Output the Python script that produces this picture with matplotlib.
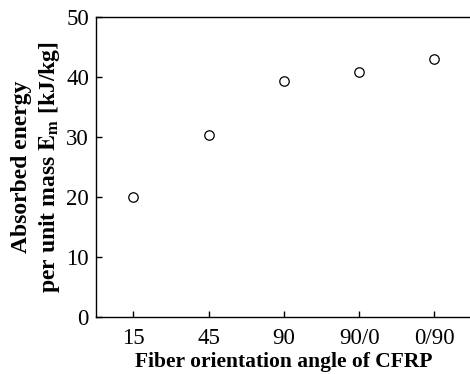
import numpy as np
import matplotlib
matplotlib.use("Agg")
import matplotlib.pyplot as plt

# data
angles = ["15", "45", "90", "90/0", "0/90"]
energy = [20.0, 30.3, 39.3, 40.8, 43.0]
y_ticks = [0, 10, 20, 30, 40, 50]

plt.rcParams["font.family"] = ["Liberation Serif", "DejaVu Serif"]
plt.rcParams["mathtext.fontset"] = "stix"

fig = plt.figure(figsize=(4.7, 3.74), dpi=100)
ax = fig.add_axes([0.204, 0.152, 0.8, 0.8025])

x = np.arange(len(angles))
ax.plot(x, energy, "o", mfc="white", mec="black", mew=0.9, ms=6.8, ls="none")

ax.set_xlim(-0.5, 4.5)
ax.set_ylim(0, 50)
ax.set_xticks(x)
ax.set_xticklabels(angles)
ax.set_yticks(y_ticks)

ax.tick_params(direction="in", length=4, width=1, labelsize=16.5)
ax.tick_params(axis="x", pad=8)
ax.tick_params(axis="y", pad=5)
ax.spines["right"].set_visible(False)
for s in ["left", "bottom", "top"]:
    ax.spines[s].set_linewidth(1.0)

ax.set_xlabel("Fiber orientation angle of CFRP", fontsize=15.5, fontweight="bold", labelpad=2)
ax.set_ylabel("Absorbed energy\nper unit mass $\\mathbf{E_m}$ [kJ/kg]",
              fontsize=17, fontweight="bold", linespacing=1.25, labelpad=3)

fig.savefig("out.png", dpi=100)
